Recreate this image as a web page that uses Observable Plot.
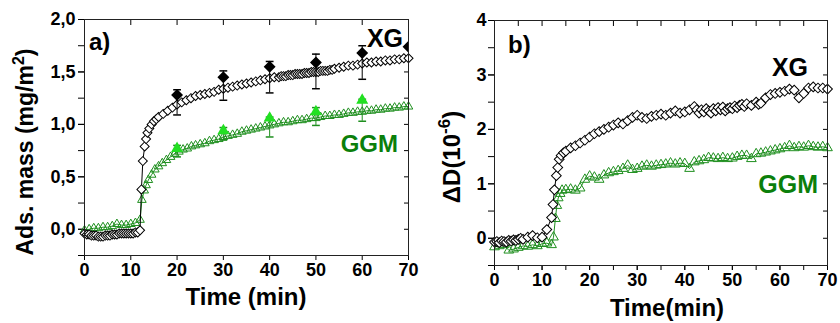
<!DOCTYPE html>
<html><head><meta charset="utf-8">
<script src="https://cdn.jsdelivr.net/npm/d3@7"></script>
<script src="https://cdn.jsdelivr.net/npm/@observablehq/plot@0.6"></script>
<style>
body{margin:0;background:#fff;}
#wrap{display:flex;width:840px;height:323px;overflow:hidden;}
svg{display:block}
</style></head><body><div id="wrap"></div>
<script>
// ---------- Panel a) adsorbed mass (mg/m2) ----------
const massXG = [[0,-0.04],[0.5,-0.05],[1,-0.05],[1.5,-0.06],[2,-0.06],[2.5,-0.06],[3,-0.07],[3.5,-0.07],[4,-0.07],[4.5,-0.06],[5,-0.06],[5.5,-0.06],[6,-0.05],[6.5,-0.05],[7,-0.05],[7.5,-0.04],[8,-0.04],[8.5,-0.04],[9,-0.04],[9.5,-0.04],[10,-0.04],[10.5,-0.04],[11,-0.03],[11.5,-0.03],[12,-0.01],
[12.3,0.38],[12.6,0.65],[13,0.79],[13.3,0.86],[13.6,0.92],[14,0.96],[14.5,1.00],[15,1.03],[15.5,1.05],[16,1.07],
[17,1.10],[18,1.13],[19,1.16],[20,1.19],[21,1.21],[22,1.23],[23,1.25],[24,1.27],[25,1.28],[26,1.29],[27,1.30],[28,1.31],[29,1.33],[30,1.34],[31,1.35],[32,1.36],[33,1.37],[34,1.38],[35,1.39],[36,1.40],[37,1.41],[38,1.42],[39,1.43],[40,1.44],[41,1.45],
[42,1.45],[42.5,1.46],[43,1.46],[43.5,1.46],[44,1.47],[44.5,1.47],[45,1.47],[45.5,1.48],[46,1.48],[46.5,1.48],[47,1.48],[47.5,1.49],[48,1.49],[48.5,1.49],[49,1.50],[49.5,1.50],[50,1.50],[50.5,1.50],[51,1.51],[51.5,1.51],[52,1.51],[52.5,1.51],[53,1.52],[53.5,1.52],[54,1.53],
[55,1.54],[56,1.55],[57,1.56],[58,1.56],[59,1.57],[60,1.58],[61,1.59],[62,1.59],[63,1.60],[64,1.60],[65,1.61],[66,1.61],[67,1.62],[68,1.62],[69,1.63],[70,1.63]];

const massGGM = [[0,-0.01],[1,0.00],[2,0.01],[3,0.01],[4,0.02],[5,0.02],[6,0.03],[7,0.05],[8,0.04],[9,0.04],[10,0.05],[11,0.06],[12,0.09],
[12.4,0.28],[12.9,0.37],[13.3,0.42],[13.8,0.47],[14.5,0.52],[15.2,0.57],[16,0.60],[16.8,0.63],[17.7,0.66],[18.6,0.69],[19.5,0.72],[20.4,0.74],[21.3,0.76],[22.2,0.77],[23.1,0.79],
[24,0.80],[25,0.81],[26,0.82],[27,0.84],[28,0.85],[29,0.86],[30,0.88],[31,0.89],[32,0.90],[33,0.91],[34,0.93],[35,0.94],[36,0.95],[37,0.96],[38,0.97],[39,0.98],[40,0.99],[41,1.00],[42,1.01],[43,1.02],[44,1.02],[45,1.03],[46,1.04],[47,1.04],[48,1.05],[49,1.06],[50,1.06],[51,1.07],[52,1.08],[53,1.08],[54,1.09],[55,1.09],[56,1.10],[57,1.11],[58,1.11],[59,1.12],[60,1.12],[61,1.13],[62,1.13],[63,1.14],[64,1.14],[65,1.15],[66,1.15],[67,1.16],[68,1.16],[69,1.17],[70,1.17]];

// averaged points with error bars
const xgMeanTime = [20, 30, 40, 50, 60, 70];
const xgMean     = [1.28, 1.45, 1.55, 1.59, 1.68, 1.74];
const xgErrTime  = [20, 30, 40, 50, 60];
const xgErrLow   = [1.09, 1.23, 1.30, 1.34, 1.43];
const xgErrHigh  = [1.33, 1.51, 1.60, 1.67, 1.75];
const ggmMeanTime = [20, 30, 40, 50, 60];
const ggmMean     = [0.77, 0.94, 1.06, 1.12, 1.23];
const ggmErrLow   = [0.69, 0.85, 0.88, 0.99, 1.03];
const ggmErrHigh  = [0.80, 0.97, 1.07, 1.16, 1.24];

// ---------- Panel b) dissipation ΔD (1e-6) ----------
const dissXG = [[0,-0.07],[0.5,-0.06],[1,-0.08],[1.5,-0.05],[2,-0.06],[2.5,-0.07],[3,-0.04],[3.5,-0.05],[4,-0.03],[4.5,-0.04],[5,-0.02],[5.5,0.00],[6,-0.02],[7,0.02],[8,0.05],[9,0.01],[10,0.02],[11,0.16],[12,0.38],
[12.3,0.62],[12.6,0.89],[13,1.15],[13.3,1.30],[13.6,1.45],[14,1.52],[14.5,1.57],[15,1.60],
[16,1.66],[17,1.70],[18,1.75],[19,1.80],[20,1.86],[21,1.92],[22,1.96],[23,2.00],[24,2.04],[25,2.08],[26,2.12],[27,2.10],[28,2.16],[29,2.22],[30,2.26],[31,2.22],[32,2.20],[33,2.24],[34,2.26],[35,2.28],[36,2.26],[37,2.30],[38,2.34],[39,2.30],[40,2.32],[41,2.36],[42,2.42],
[42.5,2.36],[43,2.30],[43.5,2.36],[44,2.32],[44.5,2.38],[45,2.34],[45.5,2.30],[46,2.38],[46.5,2.34],[47,2.40],[47.5,2.36],[48,2.41],[48.5,2.34],[49,2.38],[49.5,2.40],[50,2.38],[50.5,2.43],[51,2.40],[51.5,2.44],[52,2.46],[52.5,2.42],[53,2.47],
[54,2.44],[55,2.50],[55.5,2.46],[56,2.48],[57,2.58],[58,2.64],[59,2.66],[60,2.68],[61,2.70],[62,2.74],[63,2.72],[64,2.58],[65,2.66],[66,2.76],[67,2.78],[68,2.76],[69,2.76],[70,2.74]];

const dissGGM = [[0,-0.16],[1,-0.14],[2,-0.12],[3,-0.22],[4,-0.20],[5,-0.17],[6,-0.14],[7,-0.15],[8,-0.12],[9,-0.14],[10,-0.10],[11,-0.09],[12,-0.12],
[12.4,0.02],[12.8,0.36],[13.1,0.60],[13.4,0.74],[13.8,0.82],[14.2,0.88],[15,0.89],[16,0.90],[17,0.88],[18,0.92],[19,1.08],[20,1.14],[21,1.12],[22,1.08],[23,1.16],[24,1.20],[25,1.22],[26,1.24],[27,1.28],[28,1.34],[29,1.26],[30,1.28],[31,1.32],[32,1.34],[33,1.32],[34,1.34],[35,1.35],[36,1.36],[37,1.38],[38,1.36],[39,1.38],[40,1.37],[41,1.28],[42,1.40],[43,1.42],[44,1.44],[45,1.48],[46,1.47],[47,1.46],[48,1.48],[49,1.46],[50,1.47],[51,1.50],[52,1.52],[53,1.52],[54,1.46],[55,1.55],[56,1.56],[57,1.58],[58,1.60],[59,1.62],[60,1.64],[61,1.66],[62,1.70],[63,1.66],[64,1.68],[65,1.67],[66,1.70],[67,1.68],[68,1.67],[69,1.68],[70,1.66]];

// ---------- ticks ----------
const xTicksA = [0, 10, 20, 30, 40, 50, 60, 70];
const yTicksA = [0, 0.5, 1.0, 1.5, 2.0];
const yMinorA = [-0.25, 0, 0.25, 0.5, 0.75, 1.0, 1.25, 1.5, 1.75, 2.0];
const xTicksB = [0, 10, 20, 30, 40, 50, 60, 70];
const xMinorB = [0, 5, 10, 15, 20, 25, 30, 35, 40, 45, 50, 55, 60, 65, 70];
const yTicksB = [0, 1, 2, 3, 4];
const yMinorB = [-0.5, 0, 0.5, 1, 1.5, 2, 2.5, 3, 3.5, 4];

const GREEN = "#1f8f1f";
const GREEN_TEXT = "#0b7f0b";
const GREEN_FILL = "#22e022";
const FONT = "'Liberation Sans', Arial, Helvetica, sans-serif";
const blank = () => "";
const toObj = arr => arr.map(([t, v]) => ({t, v}));
const capSymbol = {draw(ctx, size) { const w = Math.sqrt(size / Math.PI) * 1.3; ctx.moveTo(-w, 0); ctx.lineTo(w, 0); }};
const style = {fontFamily: FONT, fontWeight: "bold", fontSize: "18px", color: "black", background: "white", overflow: "visible"};

function addText(svg, opts) {
  const t = d3.select(svg).append("text")
    .attr("font-family", FONT).attr("font-weight", "bold")
    .attr("font-size", opts.size).attr("fill", opts.fill || "black")
    .attr("text-anchor", opts.anchor || "start");
  if (opts.rotate) t.attr("transform", `translate(${opts.x},${opts.y}) rotate(-90)`);
  else t.attr("x", opts.x).attr("y", opts.y);
  for (const part of opts.parts) {
    const s = t.append("tspan").text(part.text);
    if (part.size) s.attr("font-size", part.size);
    if (part.dy) s.attr("dy", part.dy);
  }
  return t;
}

function panelA() {
  const xg = toObj(massXG), gg = toObj(massGGM);
  const xgM = xgMeanTime.map((t, i) => ({t, v: xgMean[i]}));
  const xgE = xgErrTime.map((t, i) => ({t, lo: xgErrLow[i], hi: xgErrHigh[i]}));
  const ggM = ggmMeanTime.map((t, i) => ({t, v: ggmMean[i], lo: ggmErrLow[i], hi: ggmErrHigh[i]}));
  const svg = Plot.plot({
    width: 420, height: 323, marginLeft: 84, marginRight: 12, marginTop: 19, marginBottom: 68,
    x: {domain: [0, 70]}, y: {domain: [-0.25, 2.0]},
    style,
    marks: [
      Plot.axisX({ticks: xTicksA, tickSize: 5, tickPadding: 3, tickFormat: d => String(d), label: null}),
      Plot.axisX({anchor: "top", ticks: xTicksA, tickSize: -5, tickFormat: blank, label: null}),
      Plot.axisY({ticks: yTicksA, tickSize: 6, tickPadding: 3, tickFormat: d => d3.format(".1f")(d).replace(".", ","), label: null}),
      Plot.axisY({ticks: yMinorA, tickSize: 6, tickFormat: blank, label: null}),
      Plot.axisY({anchor: "right", ticks: yMinorA, tickSize: -5, tickFormat: blank, label: null}),
      Plot.line(gg, {x: "t", y: "v", stroke: GREEN, strokeWidth: 1}),
      Plot.dot(gg, {x: "t", y: "v", symbol: "triangle", r: 3.2, stroke: GREEN, fill: "none", strokeWidth: 1}),
      Plot.line(xg, {x: "t", y: "v", stroke: "black", strokeWidth: 1}),
      Plot.dot(xg, {x: "t", y: "v", symbol: "square", rotate: 45, r: 3.6, stroke: "black", fill: "white", strokeWidth: 1}),
      Plot.ruleX(xgE, {x: "t", y1: "lo", y2: "hi", stroke: "black", strokeWidth: 1}),
      Plot.dot(xgE, {x: "t", y: "lo", symbol: capSymbol, r: 3, stroke: "black", fill: "none"}),
      Plot.dot(xgE, {x: "t", y: "hi", symbol: capSymbol, r: 3, stroke: "black", fill: "none"}),
      Plot.ruleX(ggM, {x: "t", y1: "lo", y2: "hi", stroke: GREEN, strokeWidth: 1}),
      Plot.dot(ggM, {x: "t", y: "lo", symbol: capSymbol, r: 3, stroke: GREEN, fill: "none"}),
      Plot.dot(ggM, {x: "t", y: "hi", symbol: capSymbol, r: 3, stroke: GREEN, fill: "none"}),
      Plot.dot(ggM, {x: "t", y: "v", symbol: "triangle", r: 3.5, stroke: GREEN_FILL, fill: GREEN_FILL}),
      Plot.dot(xgM, {x: "t", y: "v", symbol: "square", rotate: 45, r: 3.9, stroke: "black", fill: "black", clip: true}),
      Plot.frame({stroke: "#222", strokeWidth: 1})
    ]
  });
  addText(svg, {x: 89, y: 50, size: 24, parts: [{text: "a)"}]});
  addText(svg, {x: 403, y: 47, size: 25, anchor: "end", parts: [{text: "XG"}]});
  addText(svg, {x: 398, y: 152, size: 24, anchor: "end", fill: GREEN_TEXT, parts: [{text: "GGM"}]});
  addText(svg, {x: 246, y: 305, size: 24, anchor: "middle", parts: [{text: "Time (min)"}]});
  addText(svg, {x: 33, y: 152, size: 23, anchor: "middle", rotate: true,
    parts: [{text: "Ads. mass (mg/m"}, {text: "2", size: 16, dy: -9}, {text: ")", size: 23, dy: 9}]});
  return svg;
}

function panelB() {
  const xg = toObj(dissXG), gg = toObj(dissGGM);
  const svg = Plot.plot({
    width: 420, height: 323, marginLeft: 74, marginRight: 13, marginTop: 20, marginBottom: 58,
    x: {domain: [0, 70]}, y: {domain: [-0.5, 4]},
    style,
    marks: [
      Plot.axisX({ticks: xTicksB, tickSize: 5, tickPadding: 3, tickFormat: d => String(d), label: null}),
      Plot.axisX({ticks: xMinorB, tickSize: 5, tickFormat: blank, label: null}),
      Plot.axisX({anchor: "top", ticks: xMinorB, tickSize: -5, tickFormat: blank, label: null}),
      Plot.axisY({ticks: yTicksB, tickSize: 6, tickPadding: 2, tickFormat: d => String(d), label: null}),
      Plot.axisY({ticks: yMinorB, tickSize: 6, tickFormat: blank, label: null}),
      Plot.axisY({anchor: "right", ticks: yMinorB, tickSize: -5, tickFormat: blank, label: null}),
      Plot.line(gg, {x: "t", y: "v", stroke: GREEN, strokeWidth: 1}),
      Plot.dot(gg, {x: "t", y: "v", symbol: "triangle", r: 3.6, stroke: GREEN, fill: "none", strokeWidth: 1}),
      Plot.line(xg, {x: "t", y: "v", stroke: "black", strokeWidth: 1}),
      Plot.dot(xg, {x: "t", y: "v", symbol: "square", rotate: 45, r: 3.9, stroke: "black", fill: "white", strokeWidth: 1}),
      Plot.frame({stroke: "#222", strokeWidth: 1})
    ]
  });
  addText(svg, {x: 88, y: 53, size: 24, parts: [{text: "b)"}]});
  addText(svg, {x: 388, y: 76, size: 25, anchor: "end", parts: [{text: "XG"}]});
  addText(svg, {x: 398, y: 193, size: 25, anchor: "end", fill: GREEN_TEXT, parts: [{text: "GGM"}]});
  addText(svg, {x: 247, y: 316, size: 24, anchor: "middle", parts: [{text: "Time(min)"}]});
  addText(svg, {x: 40, y: 157, size: 24, anchor: "middle", rotate: true,
    parts: [{text: "ΔD(10"}, {text: "-6", size: 17, dy: -10}, {text: ")", size: 24, dy: 10}]});
  return svg;
}

const wrap = document.getElementById("wrap");
wrap.append(panelA(), panelB());
</script>
</body></html>
